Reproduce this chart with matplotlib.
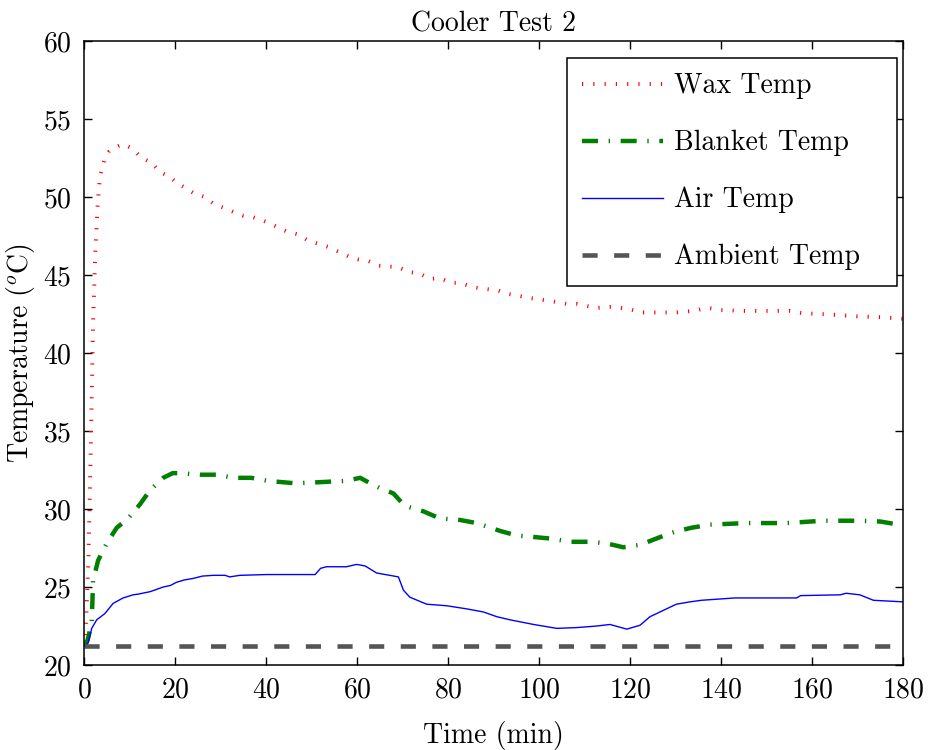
#!/usr/bin/env python3
# -*- coding: utf-8 -*-

import matplotlib
matplotlib.use("Agg")
import matplotlib.pyplot as plt

plt.rcParams['font.family'] = ['cmr10', 'DejaVu Serif']
plt.rcParams['mathtext.fontset'] = 'cm'
plt.rcParams['axes.formatter.use_mathtext'] = True

# time (min) / temperature (C)
wax_t = [0, 0.5, 1.0, 1.5, 2.0, 2.5, 3.0, 3.5, 4.5, 5.5, 7.0, 8.5, 10.0, 11.0,
         12.7, 14.9, 16.7, 18.9, 20.4, 22.2, 24.4, 26.6, 28.8, 30.8, 33.2, 35.0,
         37.2, 39.3, 41.6, 44.5, 47.1, 49.3, 51.5, 53.7, 55.9, 58.1, 60.3, 62.5,
         64.7, 66.9, 69.1, 71.3, 73.8, 76.0, 78.2, 80.8, 82.6, 85.2, 87.0, 88.5,
         91.1, 92.9, 95.1, 97.3, 99.9, 102.1, 104.3, 106.1, 108.3, 110.8, 113.0,
         115.6, 117.8, 120.0, 122.6, 125, 130, 134, 137, 140, 145, 150, 155,
         158, 162, 165, 170, 175, 180]
wax_temp = [21.2, 23.0, 27.0, 34.0, 42.0, 46.5, 49.5, 51.3, 52.4, 52.9, 53.2,
            53.4, 53.2, 53.0, 52.5, 52.2, 51.6, 51.3, 50.9, 50.6, 50.2, 50.0,
            49.5, 49.3, 49.0, 48.8, 48.7, 48.5, 48.2, 47.8, 47.6, 47.2, 47.0,
            46.8, 46.5, 46.2, 46.0, 45.9, 45.6, 45.55, 45.5, 45.2, 45.1, 44.75,
            44.8, 44.5, 44.5, 44.25, 44.15, 44.1, 44.0, 43.8, 43.7, 43.55, 43.45,
            43.35, 43.25, 43.15, 43.15, 43.0, 42.9, 42.95, 42.9, 42.8, 42.6,
            42.6, 42.6, 42.7, 42.9, 42.75, 42.7, 42.7, 42.7, 42.55, 42.5, 42.45,
            42.35, 42.3, 42.2]

blanket_t = [0, 0.8, 1.7, 2.0, 3.1, 5.0, 7.2, 9.7, 12.3, 14.5, 17.4, 19.5,
             21.1, 25.5, 29.5, 32.8, 36.8, 40.5, 46.4, 50.4, 53.7, 57.4, 60.7,
             62.9, 65.0, 68.0, 70.5, 74.6, 78.2, 82.6, 86.3, 91.4, 95.1, 99.1,
             102.8, 106.8, 111.2, 114.8, 118.5, 122.2, 126.6, 129.9, 133.5,
             137.6, 145.6, 154.4, 162.5, 170.5, 175.0, 180.0]
blanket_temp = [21.2, 21.6, 22.7, 25.4, 26.7, 27.8, 28.8, 29.4, 30.3, 31.2,
                32.0, 32.3, 32.3, 32.2, 32.2, 32.0, 32.0, 31.8, 31.65, 31.7,
                31.75, 31.8, 32.0, 31.65, 31.35, 31.0, 30.2, 29.85, 29.4, 29.3,
                29.1, 28.6, 28.3, 28.2, 28.1, 27.9, 27.9, 27.8, 27.55, 27.7,
                28.2, 28.55, 28.8, 29.0, 29.1, 29.1, 29.25, 29.25, 29.2, 28.95]

air_t = [0, 0.9, 1.7, 2.8, 4.6, 6.4, 8.6, 10.8, 12.0, 14.5, 15.5, 17.4, 19.0,
         20.3, 22.0, 24.0, 26.0, 28.4, 31.0, 32.0, 34.3, 40.1, 46.0, 50.8,
         52.0, 53.3, 57.7, 59.9, 61.8, 64.3, 69.1, 70.2, 71.6, 75.3, 79.7,
         84.1, 87.8, 90.7, 93.6, 98.8, 103.9, 108.3, 112.7, 115.6, 119.3,
         122.2, 124.4, 127.3, 130.2, 133.2, 135.7, 143.1, 156.6, 157.5, 166.2,
         167.5, 170.5, 173.5, 180.0]
air_temp = [21.2, 21.4, 22.35, 22.9, 23.3, 23.95, 24.3, 24.5, 24.55, 24.7,
            24.8, 25.0, 25.1, 25.3, 25.45, 25.55, 25.7, 25.75, 25.75, 25.65,
            25.75, 25.8, 25.8, 25.8, 26.2, 26.3, 26.3, 26.45, 26.35, 25.9,
            25.65, 24.8, 24.35, 23.9, 23.8, 23.6, 23.4, 23.1, 22.9, 22.6,
            22.35, 22.4, 22.5, 22.6, 22.3, 22.55, 23.1, 23.5, 23.9, 24.05,
            24.15, 24.3, 24.3, 24.45, 24.5, 24.6, 24.5, 24.15, 24.05]

ambient_t = [0, 180]
ambient_temp = [21.2, 21.2]

fig = plt.figure(figsize=(9.3, 7.5), dpi=100)
ax = fig.add_axes([0.0903, 0.1133, 0.8807, 0.832])

ax.plot(wax_t, wax_temp, color='#ff0000', lw=2.8, dash_capstyle='butt',
        linestyle=(0, (0.3, 2.6)), label='Wax Temp')
ax.plot(blanket_t, blanket_temp, color='#007f00', lw=3.2, dash_capstyle='butt',
        linestyle=(0, (3.6, 2.4, 0.3, 2.4)), label='Blanket Temp')
ax.plot(air_t, air_temp, color='#0000ff', lw=1.0, label='Air Temp')
ax.plot(ambient_t, ambient_temp, color='#555555', lw=3.3, dash_capstyle='butt',
        linestyle=(0, (3.3, 3.6)), label='Ambient Temp')

ax.set_xlim(0, 180)
ax.set_ylim(20, 60)
ax.set_xticks(range(0, 181, 20))
ax.set_yticks(range(20, 61, 5))
ax.tick_params(direction='in', top=True, right=True, length=6, width=1,
               labelsize=20, pad=9)
for s in ax.spines.values():
    s.set_linewidth(1.1)

ax.set_title('Cooler Test 2', fontsize=20, pad=7)
ax.set_xlabel('Time (min)', fontsize=20, labelpad=12)
ax.set_ylabel('Temperature ($^o$C)', fontsize=20, labelpad=4)

leg = ax.legend(loc='upper left', bbox_to_anchor=(0.59, 0.973, 0.403, 0.0),
                mode='expand', fontsize=20, fancybox=False, framealpha=1,
                edgecolor='black', handlelength=2.9, handletextpad=0.4,
                labelspacing=1.1, borderpad=0.55, borderaxespad=0)
leg.get_frame().set_linewidth(1.1)

fig.savefig('out.png', dpi=100)
